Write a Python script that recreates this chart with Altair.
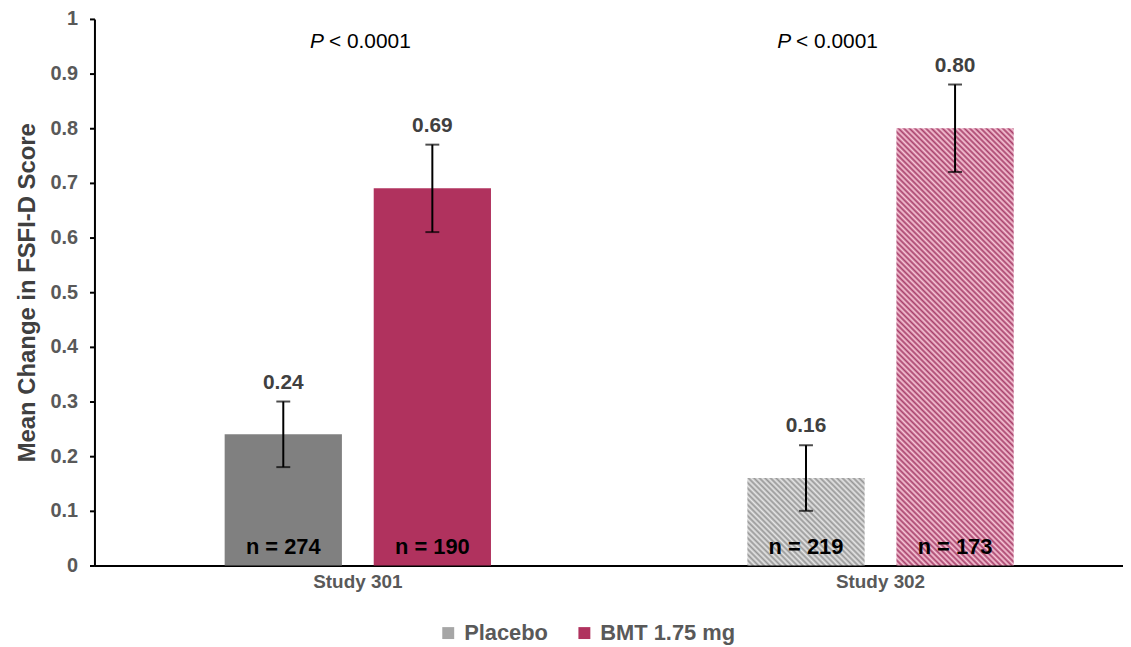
import altair as alt
import pandas as pd

# ---- data ----
studies = ["Study 301", "Study 301", "Study 302", "Study 302"]
groups = ["Placebo", "BMT 1.75 mg", "Placebo", "BMT 1.75 mg"]
means = [0.24, 0.69, 0.16, 0.80]
ci_low = [0.18, 0.61, 0.10, 0.72]
ci_high = [0.30, 0.77, 0.22, 0.88]
n_sizes = [274, 190, 219, 173]

p_studies = ["Study 301", "Study 302"]
p_texts = ["< 0.0001", "< 0.0001"]

group_order = ["Placebo", "BMT 1.75 mg"]
y_ticks = [0, 0.1, 0.2, 0.3, 0.4, 0.5, 0.6, 0.7, 0.8, 0.9, 1]

df = pd.DataFrame({
    "study": studies, "group": groups, "mean": means,
    "lower": ci_low, "upper": ci_high, "n": n_sizes,
})
p_df = pd.DataFrame({"study": p_studies, "ptext": p_texts})

# ---- layout constants ----
W, H = 1035, 550
BAR_W = 118.0
FONT = "Liberation Sans"
Y_TITLE = "Mean Change in FSFI-D Score"


def stripes(dark, light, value, period=5.5):
    """Diagonal hatch simulated by a soft striped linear gradient (45 deg in pixels)."""
    w = BAR_W
    h = value * H
    k = (w + h) / (w * w + h * h)
    n = max(1, round((w + h) / period))
    stops = []
    for i in range(n):
        a, b = i / n, (i + 0.5) / n
        stops += [
            {"offset": round(a, 5), "color": dark},
            {"offset": round(b, 5), "color": light},
        ]
    stops.append({"offset": 1, "color": dark})
    return {"gradient": "linear", "x1": 0, "y1": 1,
            "x2": k * w, "y2": 1 - k * h, "stops": stops}


xscale = alt.Scale(paddingInner=0.4905, paddingOuter=0.2291, align=0.5436)
offscale = alt.Scale(domain=group_order, paddingInner=0.2133, paddingOuter=0)
yscale = alt.Scale(domain=[0, 1], nice=False, zero=True)

xaxis = alt.Axis(
    title=None, labelAngle=0, ticks=False, domainColor="black", domainWidth=2,
    labelFont=FONT, labelFontSize=19, labelFontWeight="bold", labelColor="#595959",
    labelPadding=7,
)
yaxis = alt.Axis(
    values=y_ticks, format="~g", grid=False, domainColor="black", domainWidth=2,
    tickColor="black", tickWidth=2, tickSize=5,
    labelFont=FONT, labelFontSize=20, labelFontWeight="bold", labelColor="#595959",
    labelPadding=12,
    titleFont=FONT, titleFontSize=24,
    titleFontWeight="bold", titleColor="#404040", titleX=-67, titleY=H / 2,
    titleAngle=-90, titleAlign="center", titleBaseline="middle",
)


def Y(field):
    return alt.Y(field, scale=yscale, axis=yaxis, title=Y_TITLE)


X = alt.X("study:N", scale=xscale, axis=xaxis, title=None)

base = alt.Chart(df).encode(
    x=X,
    xOffset=alt.XOffset("group:N", scale=offscale, sort=group_order),
)


def one(study, group):
    return f"datum.study == '{study}' && datum.group == '{group}'"


bars_301_p = base.transform_filter(one("Study 301", "Placebo")).mark_bar(
    fill="#808080").encode(y=Y("mean:Q"))
bars_301_b = base.transform_filter(one("Study 301", "BMT 1.75 mg")).mark_bar(
    fill="#B0325E").encode(y=Y("mean:Q"))
bars_302_p = base.transform_filter(one("Study 302", "Placebo")).mark_bar(
    fill=stripes("#979797", "#e6e6e6", means[2])).encode(y=Y("mean:Q"))
bars_302_b = base.transform_filter(one("Study 302", "BMT 1.75 mg")).mark_bar(
    fill=stripes("#a8406b", "#f8c8d8", means[3])).encode(y=Y("mean:Q"))

err_rule = base.mark_rule(color="black", strokeWidth=2).encode(
    y=Y("lower:Q"), y2="upper:Q")
cap_hi = base.mark_tick(color="black", thickness=2, size=14, orient="horizontal").encode(
    y=Y("upper:Q"))
cap_lo = base.mark_tick(color="black", thickness=2, size=14, orient="horizontal").encode(
    y=Y("lower:Q"))

val_text = base.mark_text(
    font=FONT, fontSize=21, fontWeight="bold", color="#404040",
    baseline="middle", dy=-19,
).encode(y=Y("upper:Q"), text=alt.Text("mean:Q", format=".2f"))

n_text = base.transform_calculate(label="'n = ' + datum.n").mark_text(
    font=FONT, fontSize=22, fontWeight="bold", color="black",
    baseline="middle", dy=-19,
).encode(y=Y("zero:Q"), text="label:N").transform_calculate(zero="0")

legend_layer = base.mark_square(opacity=0, size=1).encode(
    y=Y("mean:Q"),
    color=alt.Color(
        "group:N",
        scale=alt.Scale(domain=group_order, range=["#A6A6A6", "#B0325E"]),
        legend=alt.Legend(
            title=None, orient="none", direction="horizontal",
            legendX=345, legendY=607, padding=0,
            symbolType="square", symbolSize=144, symbolOpacity=1,
            symbolStrokeWidth=0, labelOffset=5, columnPadding=25,
            labelFont=FONT, labelFontSize=22, labelFontWeight="bold",
            labelColor="#595959",
        ),
    ),
)

pbase = alt.Chart(p_df).encode(x=X)


def p_layers(study, dx_p, dx_rest):
    sel = pbase.transform_filter(f"datum.study == '{study}'")
    p_it = sel.mark_text(text="P", font=FONT, fontSize=21, fontStyle="italic",
                         color="black", align="right", baseline="middle",
                         dx=dx_p).encode(y=alt.value(23))
    rest = sel.mark_text(font=FONT, fontSize=21, color="black", align="left",
                         baseline="middle", dx=dx_rest).encode(
        y=alt.value(23), text="ptext:N")
    return [p_it, rest]


layers = [bars_301_p, bars_301_b, bars_302_p, bars_302_b, err_rule, cap_hi, cap_lo,
          val_text, n_text, legend_layer]
layers += p_layers("Study 301", -34, -29)
layers += p_layers("Study 302", -90, -85)

chart = alt.layer(*layers).properties(
    width=W, height=H,
    autosize=alt.AutoSizeParams(type="none"),
    padding={"left": 87, "top": 9, "right": 0, "bottom": 78},
).configure(font=FONT).configure_view(stroke=None)

chart.save("out.html", embed_options={"renderer": "svg", "actions": False})
